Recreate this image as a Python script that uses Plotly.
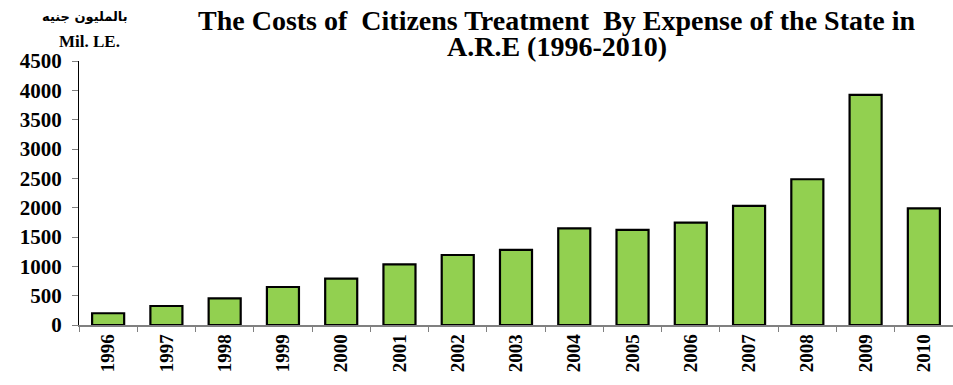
import plotly.graph_objects as go

years = ["1996", "1997", "1998", "1999", "2000", "2001", "2002", "2003",
         "2004", "2005", "2006", "2007", "2008", "2009", "2010"]
costs = [200, 324, 455, 648, 790, 1035, 1193, 1279, 1648, 1620, 1745, 2029, 2484, 3922, 1989]
y_ticks = [0, 500, 1000, 1500, 2000, 2500, 3000, 3500, 4000, 4500]

title_line1 = "The Costs of  Citizens Treatment  By Expense of the State in"
title_line2 = "A.R.E (1996-2010)"
unit_ar = "بالمليون جنيه"
unit_en = "Mil. LE."

FONT = "Liberation Serif"

fig = go.Figure(go.Bar(
    x=years, y=costs,
    marker=dict(color="#92D050", line=dict(color="#000000", width=2.2)),
))

fig.update_layout(
    width=953, height=385,
    margin=dict(l=79, r=0, t=61, b=60),
    paper_bgcolor="white", plot_bgcolor="white",
    bargap=0.45,
    showlegend=False,
    font=dict(family=FONT, color="black"),
    xaxis=dict(
        type="category",
        automargin=False,
        tickangle=-90,
        tickfont=dict(family=FONT, size=19, color="black", weight="bold"),
        ticks="outside", tickson="boundaries", ticklen=5, tickcolor="#808080",
        showline=True, linecolor="#808080", linewidth=1.5,
        showgrid=False,
    ),
    yaxis=dict(
        automargin=False,
        range=[0, 4500],
        tickvals=y_ticks,
        ticktext=[str(v) for v in y_ticks],
        tickfont=dict(family=FONT, size=21, color="black", weight="bold"),
        ticks="outside", ticklen=6, tickcolor="#808080",
        ticklabelstandoff=6,
        showline=True, linecolor="#000000", linewidth=1.2,
        showgrid=False, zeroline=False,
    ),
    annotations=[
        dict(text=title_line1, xref="paper", yref="paper",
             x=0.547, y=1.154, xanchor="center", yanchor="middle", showarrow=False,
             font=dict(family=FONT, size=28, color="black", weight="bold")),
        dict(text=title_line2, xref="paper", yref="paper",
             x=0.547, y=1.055, xanchor="center", yanchor="middle", showarrow=False,
             font=dict(family=FONT, size=28, color="black", weight="bold")),
        dict(text=unit_ar, xref="paper", yref="paper",
             x=0.007, y=1.17, xanchor="center", yanchor="middle", showarrow=False,
             font=dict(family="DejaVu Sans", size=13, color="black", weight="bold")),
        dict(text=unit_en, xref="paper", yref="paper",
             x=0.012, y=1.075, xanchor="center", yanchor="middle", showarrow=False,
             font=dict(family=FONT, size=17, color="black", weight="bold")),
    ],
)

# remove the page's default 8px body margin so the figure fills the window
fig.write_html("out.html", config={"displayModeBar": False},
               post_script="document.body.style.margin='0';")
